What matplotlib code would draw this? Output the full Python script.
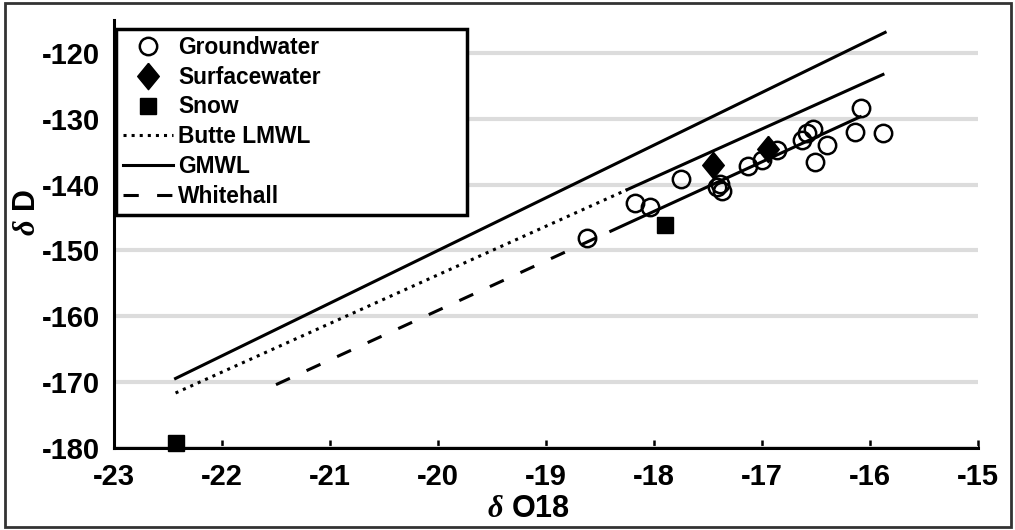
import numpy as np
import matplotlib
matplotlib.use('Agg')
import matplotlib.pyplot as plt
from matplotlib.patches import Rectangle

plt.rcParams['font.family'] = ['Liberation Sans', 'DejaVu Sans']
plt.rcParams['font.weight'] = 'bold'
plt.rcParams['axes.unicode_minus'] = False
plt.rcParams['mathtext.fontset'] = 'custom'
plt.rcParams['mathtext.it'] = 'Liberation Serif:italic'
plt.rcParams['mathtext.rm'] = 'Liberation Sans:bold'

# groundwater samples
gw_o18 = [-18.62, -18.18, -18.04, -17.75, -17.42, -17.39, -17.37, -17.13, -17.00,
          -16.86, -16.63, -16.58, -16.53, -16.51, -16.40, -16.14, -16.08, -15.88]
gw_d = [-148.1, -142.8, -143.4, -139.1, -140.4, -139.9, -141.0, -137.1, -136.3,
        -134.8, -133.3, -132.2, -131.5, -136.5, -134.0, -132.0, -128.3, -132.1]

# surface water
sw_o18 = [-17.45, -16.94]
sw_d = [-137.0, -134.6]

# snow
snow_o18 = [-22.43, -17.90]
snow_d = [-179.3, -146.1]

# water lines: slope, intercept and x extents
gmwl = (8.0, 10.0)
gmwl_x = [-22.43, -15.86]
lmwl = (7.385, -6.0)
lmwl_dot_x = [-22.43, -18.25]
lmwl_sol_x = [-18.25, -15.88]
wh = (7.52, -8.7)
wh_dash_x = [-21.50, -18.40]
wh_sol_x = [-18.40, -16.09]

xticks = list(range(-23, -14))
yticks = list(range(-180, -119, 10))


def wl(coef, xs):
    xs = np.array(xs)
    return xs, coef[0] * xs + coef[1]


fig = plt.figure(figsize=(10.15, 5.30), dpi=100)
ax = fig.add_axes([114 / 1015, 1 - 448 / 530, 864 / 1015, 428 / 530])

lw = 2.2
ax.plot(*wl(lmwl, lmwl_dot_x), color='black', lw=lw, ls=':', label='Butte LMWL', zorder=3)
ax.plot(*wl(lmwl, lmwl_sol_x), color='black', lw=lw, ls='-', zorder=3)
ax.plot(*wl(gmwl, gmwl_x), color='black', lw=lw, ls='-', label='GMWL', zorder=3)
ax.plot(*wl(wh, wh_dash_x), color='black', lw=lw, ls=(0, (5, 6)), label='Whitehall', zorder=3)
ax.plot(*wl(wh, wh_sol_x), color='black', lw=lw, ls='-', zorder=3)

ax.plot(gw_o18, gw_d, ls='none', marker='o', ms=12.5, mfc='none', mec='black',
        mew=1.8, label='Groundwater', zorder=4)
diamond = [(0, 1), (0.82, 0), (0, -1), (-0.82, 0), (0, 1)]
ax.plot(sw_o18, sw_d, ls='none', marker=diamond, ms=19, mfc='black', mec='black',
        label='Surfacewater', zorder=5)
ax.plot(snow_o18, snow_d, ls='none', marker='s', ms=11, mfc='black', mec='black',
        label='Snow', zorder=5, clip_on=False)

ax.set_xlim(-23, -15)
ax.set_ylim(-180, -115)
ax.set_xticks(xticks)
ax.set_yticks(yticks)
ax.yaxis.grid(True, color='#dcdcdc', lw=3)
ax.set_axisbelow(True)

for s in ['top', 'right']:
    ax.spines[s].set_visible(False)
for s in ['left', 'bottom']:
    ax.spines[s].set_linewidth(2.2)
    ax.spines[s].set_color('black')

ax.tick_params(axis='x', direction='in', length=6, width=1.8, pad=11, labelsize=21)
ax.tick_params(axis='y', direction='in', length=0, width=1.8, pad=10, labelsize=21)
for t in ax.get_xticklabels() + ax.get_yticklabels():
    t.set_fontweight('bold')

ax.set_xlabel(r'$\delta$ O18', fontsize=22, fontweight='bold')
ax.xaxis.set_label_coords(0.48, -0.107)
ax.set_ylabel(r'$\delta$ D', fontsize=22, fontweight='bold')
ax.yaxis.set_label_coords(-0.083, 0.55)

handles, labels = ax.get_legend_handles_labels()
order = ['Groundwater', 'Surfacewater', 'Snow', 'Butte LMWL', 'GMWL', 'Whitehall']
hd = dict(zip(labels, handles))
leg = ax.legend([hd[k] for k in order], order, loc='upper left',
                bbox_to_anchor=(0.0023, 0.0, 0.406, 0.979), mode='expand',
                handlelength=2.2, handletextpad=0.22, borderpad=0.3,
                labelspacing=0.3, borderaxespad=0, frameon=True, fancybox=False,
                prop={'weight': 'bold', 'size': 16.4})
leg.get_frame().set_edgecolor('black')
leg.get_frame().set_linewidth(2.5)
leg.get_frame().set_alpha(1)

# outer frame of the figure
fig.patches.append(Rectangle((5 / 1015, 3 / 530), 1006 / 1015, 524 / 530,
                             transform=fig.transFigure, fill=False,
                             edgecolor='#333333', lw=2))

fig.savefig('out.png', dpi=100)
